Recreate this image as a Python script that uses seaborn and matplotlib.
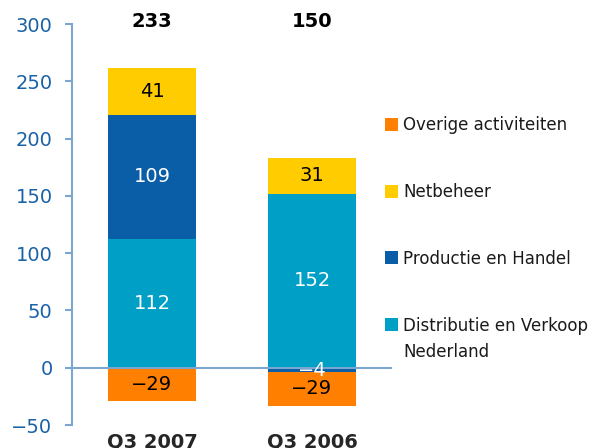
import numpy as np
import pandas as pd
import seaborn as sns
import matplotlib.pyplot as plt
from matplotlib.patches import Rectangle

# data
quarters = ["Q3 2007", "Q3 2006"]
segments = ["Distributie en Verkoop\nNederland", "Productie en Handel", "Netbeheer", "Overige activiteiten"]
distributie = [112, 152]
productie = [109, -4]
netbeheer = [41, 31]
overige = [-29, -29]
totals = [233, 150]

colors = ["#00a0c6", "#0a5ea8", "#ffcc00", "#ff7f00"]
label_colors = ["white", "white", "black", "black"]

sns.set_style("white")
plt.rcParams['font.family'] = ['DejaVu Sans']

axis_col = "#7aa6cf"
tick_col = "#1a62a6"

fig = plt.figure(figsize=(6.01, 4.48), dpi=100)
ax = fig.add_axes([72 / 601, 23 / 448, 320 / 601, 401 / 448])

series = [distributie, productie, netbeheer, overige]
pos_base = np.zeros(len(quarters))
neg_base = np.zeros(len(quarters))
for vals, col, lcol in zip(series, colors, label_colors):
    vals = np.array(vals, dtype=float)
    bottoms = np.where(vals >= 0, pos_base, neg_base)
    df = pd.DataFrame({"quarter": quarters, "value": vals})
    sns.barplot(data=df, x="quarter", y="value", bottom=bottoms, color=col,
                width=0.556, saturation=1, linewidth=0, ax=ax)
    for i, (v, b) in enumerate(zip(vals, bottoms)):
        ax.text(i, b + v / 2, f"{int(v)}".replace("-", "\u2212"), ha="center", va="center",
                color=lcol, fontsize=14, zorder=5)
    pos_base = np.where(vals >= 0, pos_base + vals, pos_base)
    neg_base = np.where(vals < 0, neg_base + vals, neg_base)

for i, t in enumerate(totals):
    ax.text(i, 302, str(t), ha="center", va="center", fontsize=14,
            fontweight="bold", color="black", clip_on=False)

ax.axhline(0, color=axis_col, lw=1.5, zorder=4)

ax.set_ylim(-50, 300)
ax.set_xlim(-0.5, 1.5)
ax.set_yticks(range(-50, 301, 50))
ax.set_yticklabels([str(v).replace("-", "\u2212") for v in range(-50, 301, 50)])
ax.set_xlabel("")
ax.set_ylabel("")
for s in ["top", "right", "bottom"]:
    ax.spines[s].set_visible(False)
ax.spines["left"].set_color(axis_col)
ax.spines["left"].set_linewidth(1.5)
ax.tick_params(axis="y", left=True, length=5, width=1.5, color=axis_col,
               labelcolor=tick_col, labelsize=14, pad=9)
ax.tick_params(axis="x", bottom=False, labelsize=14, pad=2)
for lab in ax.get_xticklabels():
    lab.set_fontweight("bold")

# legend
leg_order = [3, 2, 1, 0]
for k, idx in enumerate(leg_order):
    yc = 124.5 + k * 66.7
    fig.patches.append(Rectangle((385 / 601, 1 - (yc + 6.5) / 448), 12.5 / 601, 13 / 448,
                                 transform=fig.transFigure, color=colors[idx], lw=0))
    for j, line in enumerate(segments[idx].split("\n")):
        fig.text(403 / 601, 1 - (yc + 6 + j * 26) / 448, line, ha="left", va="baseline",
                 fontsize=12, color="#1a1a1a")

fig.savefig("out.png", dpi=100)
